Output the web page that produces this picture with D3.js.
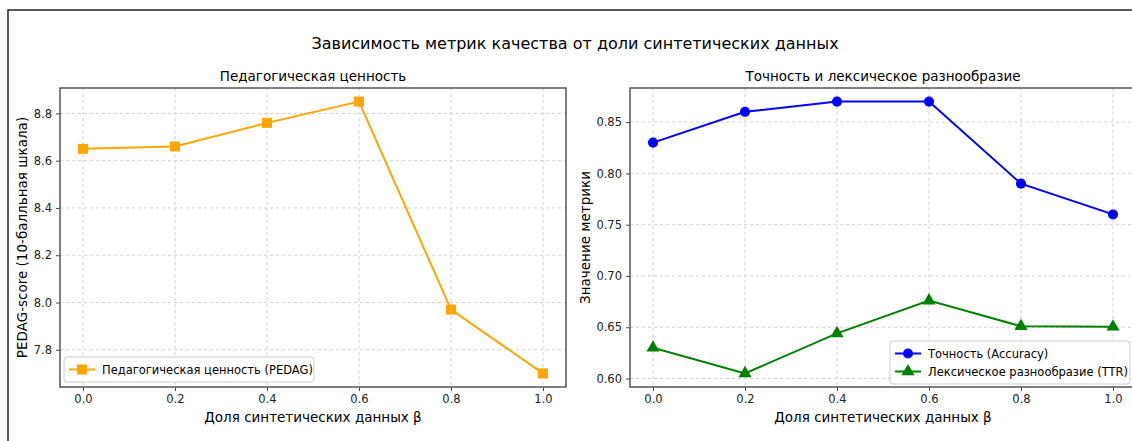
<!DOCTYPE html>
<html lang="ru">
<head>
<meta charset="utf-8">
<title>Зависимость метрик качества от доли синтетических данных</title>
<script src="https://d3js.org/d3.v7.min.js"></script>
<style>
  body { margin: 0; background: #fff; }
  svg { display: block; font-family: "DejaVu Sans", sans-serif; }
  .tick text { fill: #222; }
</style>
</head>
<body>
<div id="chart"></div>
<script>
  // data
  const betas = [0.0, 0.2, 0.4, 0.6, 0.8, 1.0];
  const pedag = [8.65, 8.66, 8.76, 8.85, 7.97, 7.70];
  const accuracy = [0.83, 0.86, 0.87, 0.87, 0.79, 0.76];
  const ttr = [0.630, 0.605, 0.644, 0.676, 0.651, 0.6505];
  const xTicks = [0.0, 0.2, 0.4, 0.6, 0.8, 1.0];
  const leftYTicks = [7.8, 8.0, 8.2, 8.4, 8.6, 8.8];
  const rightYTicks = [0.60, 0.65, 0.70, 0.75, 0.80, 0.85];

  const width = 1132, height = 441;
  const plotTop = 88, plotBottom = 387;

  const svg = d3.select("#chart").append("svg")
      .attr("width", width)
      .attr("height", height);

  svg.append("rect").attr("width", width).attr("height", height).attr("fill", "#fff");

  // outer frame (top and left edges only visible)
  svg.append("path")
      .attr("d", "M8," + height + "V10H" + width)
      .attr("fill", "none")
      .attr("stroke", "#222")
      .attr("stroke-width", 1.5);

  // main title
  svg.append("text")
      .attr("x", 575).attr("y", 49)
      .attr("text-anchor", "middle")
      .style("font-size", "16px")
      .text("Зависимость метрик качества от доли синтетических данных");

  function panel(x0, x1, yDomain, yTicks, yFmt, title, yLabel, yLabelX) {
    const xScale = d3.scaleLinear().domain([-0.05, 1.05]).range([x0, x1]);
    const yScale = d3.scaleLinear().domain(yDomain).range([plotBottom, plotTop]);
    const g = svg.append("g");

    // grid
    g.selectAll(".gx").data(xTicks).enter().append("line")
        .attr("x1", d => xScale(d)).attr("x2", d => xScale(d))
        .attr("y1", plotTop).attr("y2", plotBottom)
        .attr("stroke", "#d0d0d0").attr("stroke-dasharray", "3,3");
    g.selectAll(".gy").data(yTicks).enter().append("line")
        .attr("x1", x0).attr("x2", x1)
        .attr("y1", d => yScale(d)).attr("y2", d => yScale(d))
        .attr("stroke", "#d0d0d0").attr("stroke-dasharray", "3,3");

    // axes
    const xAxis = g.append("g")
        .attr("transform", "translate(0," + plotBottom + ")")
        .call(d3.axisBottom(xScale).tickValues(xTicks).tickFormat(d3.format(".1f")).tickSize(4).tickPadding(4));
    const yAxis = g.append("g")
        .attr("transform", "translate(" + x0 + ",0)")
        .call(d3.axisLeft(yScale).tickValues(yTicks).tickFormat(yFmt).tickSize(4).tickPadding(4));
    [xAxis, yAxis].forEach(a => {
      a.select(".domain").remove();
      a.selectAll(".tick line").attr("stroke", "#444");
      a.selectAll(".tick text").style("font-size", "11.5px").style("font-family", "DejaVu Sans, sans-serif");
    });

    // frame
    g.append("rect")
        .attr("x", x0).attr("y", plotTop)
        .attr("width", x1 - x0).attr("height", plotBottom - plotTop)
        .attr("fill", "none").attr("stroke", "#555").attr("stroke-width", 1.5);

    // titles
    g.append("text")
        .attr("x", (x0 + x1) / 2).attr("y", 81)
        .attr("text-anchor", "middle")
        .style("font-size", "13.5px")
        .text(title);
    g.append("text")
        .attr("x", (x0 + x1) / 2).attr("y", 422)
        .attr("text-anchor", "middle")
        .style("font-size", "13.5px")
        .text("Доля синтетических данных β");
    g.append("text")
        .attr("transform", "translate(" + yLabelX + "," + ((plotTop + plotBottom) / 2) + ")rotate(-90)")
        .attr("text-anchor", "middle")
        .style("font-size", "13.5px")
        .text(yLabel);

    return { g, xScale, yScale };
  }

  const leftPanel = panel(60, 566, [7.6425, 8.9075], leftYTicks, d3.format(".1f"),
      "Педагогическая ценность", "PEDAG-score (10-балльная шкала)", 27);
  const rightPanel = panel(630, 1136, [0.59175, 0.88325], rightYTicks, d3.format(".2f"),
      "Точность и лексическое разнообразие", "Значение метрики", 590);

  function series(p, values, color, marker) {
    const line = d3.line()
        .x((d, i) => p.xScale(betas[i]))
        .y(d => p.yScale(d));
    p.g.append("path")
        .datum(values)
        .attr("d", line)
        .attr("fill", "none")
        .attr("stroke", color)
        .attr("stroke-width", 2);
    p.g.selectAll(null).data(values).enter().append("path")
        .attr("transform", (d, i) => "translate(" + p.xScale(betas[i]) + "," + p.yScale(d) + ")")
        .attr("d", marker)
        .attr("fill", color);
  }

  const squareM = d3.symbol().type(d3.symbolSquare).size(100)();
  const circleM = d3.symbol().type(d3.symbolCircle).size(80)();
  const triM = d3.symbol().type(d3.symbolTriangle).size(75)();

  series(leftPanel, pedag, "#FFA500", squareM);
  series(rightPanel, accuracy, "#0000FF", circleM);
  series(rightPanel, ttr, "#008000", triM);

  // legends
  function legend(x, y, w, items) {
    const lg = svg.append("g").attr("transform", "translate(" + x + "," + y + ")");
    lg.append("rect")
        .attr("width", w).attr("height", 7 + items.length * 18)
        .attr("rx", 3)
        .attr("fill", "#fff").attr("fill-opacity", 0.85)
        .attr("stroke", "#cccccc");
    items.forEach((it, i) => {
      const cy = 12.5 + i * 18;
      lg.append("line")
          .attr("x1", 5).attr("x2", 31).attr("y1", cy).attr("y2", cy)
          .attr("stroke", it.color).attr("stroke-width", 2);
      lg.append("path")
          .attr("transform", "translate(18," + cy + ")")
          .attr("d", it.marker).attr("fill", it.color);
      lg.append("text")
          .attr("x", 38).attr("y", cy + 4)
          .style("font-size", "11.5px")
          .text(it.label);
    });
  }

  legend(64, 357, 250, [
    { color: "#FFA500", marker: squareM, label: "Педагогическая ценность (PEDAG)" }
  ]);
  legend(890, 341, 240, [
    { color: "#0000FF", marker: circleM, label: "Точность (Accuracy)" },
    { color: "#008000", marker: triM, label: "Лексическое разнообразие (TTR)" }
  ]);
</script>
</body>
</html>
